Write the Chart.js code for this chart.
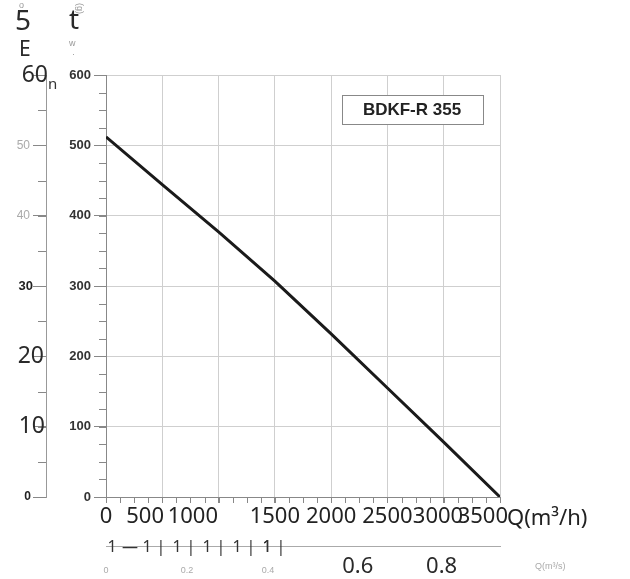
<!DOCTYPE html>
<html>
<head>
<meta charset="utf-8">
<script src="https://cdn.jsdelivr.net/npm/chart.js@4.4.1/dist/chart.umd.min.js"></script>
<style>
  body { margin: 0; background: #fff; }
  #wrap { width: 630px; height: 579px; }
</style>
</head>
<body>
<div id="wrap"><canvas id="fanChart" width="630" height="579"></canvas></div>
<script>
// === DỮ LIỆU ===
const flowM3h = [0, 500, 1000, 1500, 2000, 2500, 3000, 3500];
const pressurePa = [512, 444, 377, 307, 232, 155, 78, 0];

const flowTicks = [0, 500, 1000, 1500, 2000, 2500, 3000, 3500];
const pressureTicks = [0, 100, 200, 300, 400, 500, 600];
const leftTicks = [0, 10, 20, 30, 40, 50, 60];
const flowM3sTicks = [0, 0.2, 0.4, 0.6, 0.8];
const modelName = 'BDKF-R 355';

const bigFont = '"Noto Sans", sans-serif';
const smallFont = '"Liberation Sans", Arial, sans-serif';

// Dịch nhãn trục x cho giống bản scan (thêm khoảng trắng)
const xLabelPad = { 500: '      ', 1000: '         ', 3000: '  ', 3500: '      ' };
const x2LabelPad = { 0.6: '   ', 0.8: '    ' };

// Kiểu chữ cho từng nhãn trục trái (bản scan không đồng đều)
const leftLabelStyle = {
    0:  { font: 'bold 12px ' + smallFont, color: '#222', right: 31 },
    10: { font: '23px ' + bigFont, color: '#2a2a2a', right: 45 },
    20: { font: '23px ' + bigFont, color: '#2a2a2a', right: 44 },
    30: { font: 'bold 13px ' + smallFont, color: '#222', right: 33 },
    40: { font: '12px ' + smallFont, color: '#aaa', right: 30 },
    50: { font: '12px ' + smallFont, color: '#aaa', right: 30 },
    60: { font: '23px ' + bigFont, color: '#2a2a2a', right: 48 }
};

// Plugin vẽ vạch phụ, nhãn trục trái và chữ phụ
const extrasPlugin = {
    id: 'extras',
    afterDraw(chart) {
        const ctx = chart.ctx;
        const { x, y, y2, x2 } = chart.scales;
        ctx.save();

        // vạch phụ
        ctx.strokeStyle = '#888';
        ctx.lineWidth = 1;
        ctx.beginPath();
        for (let v = 0; v <= 600; v += 25) {
            const py = Math.round(y.getPixelForValue(v)) + 0.5;
            ctx.moveTo(y.right - 7, py); ctx.lineTo(y.right, py);
        }
        for (let v = 0; v <= 60; v += 5) {
            const py = Math.round(y2.getPixelForValue(v)) + 0.5;
            ctx.moveTo(y2.right - 8, py); ctx.lineTo(y2.right, py);
        }
        for (let v = 0; v <= 3500; v += 125) {
            const px = Math.round(x.getPixelForValue(v)) + 0.5;
            ctx.moveTo(px, x.top); ctx.lineTo(px, x.top + 6);
        }
        ctx.stroke();

        // nhãn trục trái
        ctx.textBaseline = 'middle';
        ctx.textAlign = 'right';
        leftTicks.forEach(v => {
            const s = leftLabelStyle[v];
            ctx.font = s.font;
            ctx.fillStyle = s.color;
            ctx.fillText(String(v), s.right, y2.getPixelForValue(v));
        });
        ctx.textAlign = 'left';
        ctx.font = '15px ' + bigFont;
        ctx.fillStyle = '#333';
        ctx.fillText('n', 48, y2.getPixelForValue(60) + 10);

        // chữ rời rạc phía trên (từ bản scan)
        ctx.fillStyle = '#2a2a2a';
        ctx.font = '28px ' + bigFont;
        ctx.fillText('5', 15, 22);
        ctx.fillText('t', 69, 21);
        ctx.font = '21px ' + bigFont;
        ctx.fillText('E', 19, 50);
        ctx.font = '9px ' + smallFont;
        ctx.fillStyle = '#999';
        ctx.fillText('o', 19, 6);
        ctx.fillText('w', 69, 44);
        ctx.fillText('·', 72, 55);
        ctx.save();
        ctx.translate(79, 9);
        ctx.rotate(Math.PI / 2);
        ctx.fillText('(g)', -6, 0);
        ctx.restore();

        // đơn vị trục x
        ctx.fillStyle = '#222';
        ctx.font = '22px ' + bigFont;
        ctx.textBaseline = 'alphabetic';
        ctx.fillText('Q(m\u00b3/h)', 507, 525);
        ctx.font = '9px ' + smallFont;
        ctx.fillStyle = '#aaa';
        ctx.textBaseline = 'middle';
        ctx.fillText('Q(m\u00b3/s)', 535, 567);

        // dãy vạch kiểu chữ "1" trên trục m3/s
        ctx.font = '16px ' + bigFont;
        ctx.fillStyle = '#333';
        ctx.textAlign = 'center';
        const mid = x2.top + 1;
        ctx.fillText('1', 112, mid);
        ctx.fillText('\u2014', 130, mid);
        for (let i = 0; i < 5; i++) {
            ctx.fillText('1', 147 + i * 30, mid);
            ctx.fillText('|', 161 + i * 30, mid);
        }
        ctx.fillText('1', 267, mid);

        // hộp tên model
        ctx.fillStyle = '#fff';
        ctx.fillRect(342, 95, 141, 29);
        ctx.strokeStyle = '#888';
        ctx.strokeRect(342.5, 95.5, 141, 29);
        ctx.fillStyle = '#222';
        ctx.font = 'bold 17px ' + smallFont;
        ctx.fillText(modelName, 412, 110);

        ctx.restore();
    }
};

const isBig = c => c.tick && c.tick.value >= 0.6;

const ctxFan = document.getElementById('fanChart').getContext('2d');
const fanChart = new Chart(ctxFan, {
    type: 'line',
    data: {
        datasets: [{
            data: flowM3h.map((q, i) => ({ x: q, y: pressurePa[i] })),
            borderColor: '#1a1a1a',
            borderWidth: 3,
            pointRadius: 0,
            tension: 0,
            fill: false
        }]
    },
    options: {
        responsive: false,
        animation: false,
        layout: { padding: { top: 75, right: 130, bottom: 0, left: 0 } },
        plugins: { legend: { display: false }, tooltip: { enabled: false } },
        scales: {
            x: {
                type: 'linear', position: 'bottom', weight: 0,
                min: 0, max: 3500,
                afterBuildTicks: s => { s.ticks = flowTicks.map(v => ({ value: v })); },
                afterFit: s => { s.height = 49; },
                grid: { color: '#cfcfcf', tickLength: 6, tickColor: '#888' },
                border: { color: '#888' },
                ticks: {
                    autoSkip: false, maxRotation: 0, padding: 1,
                    callback: v => String(v) + (xLabelPad[v] || ''),
                    color: '#222', font: { family: bigFont, size: 22 }
                }
            },
            x2: {
                type: 'linear', position: 'bottom', weight: 1,
                min: 0, max: 3500 / 3600,
                afterBuildTicks: s => { s.ticks = flowM3sTicks.map(v => ({ value: v })); },
                afterFit: s => { s.height = 33; },
                grid: { drawOnChartArea: false, drawTicks: false },
                border: { color: '#aaa' },
                ticks: {
                    autoSkip: false, maxRotation: 0, padding: 8,
                    callback: v => (v >= 0.6) ? (x2LabelPad[v] || '') + String(v) : ['', String(v)],
                    color: c => isBig(c) ? '#2a2a2a' : '#aaa',
                    font: c => isBig(c)
                        ? { family: bigFont, size: 22 }
                        : { family: smallFont, size: 9, lineHeight: 1.2 }
                }
            },
            y: {
                type: 'linear', position: 'left', weight: 0,
                min: 0, max: 600,
                afterBuildTicks: s => { s.ticks = pressureTicks.map(v => ({ value: v })); },
                afterFit: s => { s.width = 60; },
                grid: { color: '#cfcfcf', tickLength: 12, tickColor: '#888' },
                border: { color: '#888' },
                ticks: {
                    padding: 3, color: '#333',
                    font: { family: smallFont, size: 13, weight: 'bold' }
                }
            },
            y2: {
                type: 'linear', position: 'left', weight: 1,
                min: 0, max: 60,
                afterBuildTicks: s => { s.ticks = leftTicks.map(v => ({ value: v })); },
                afterFit: s => { s.width = 46; },
                grid: { drawOnChartArea: false, tickLength: 13, tickColor: '#888' },
                border: { color: '#999' },
                ticks: { display: false }
            }
        }
    },
    plugins: [extrasPlugin]
});
</script>
</body>
</html>
